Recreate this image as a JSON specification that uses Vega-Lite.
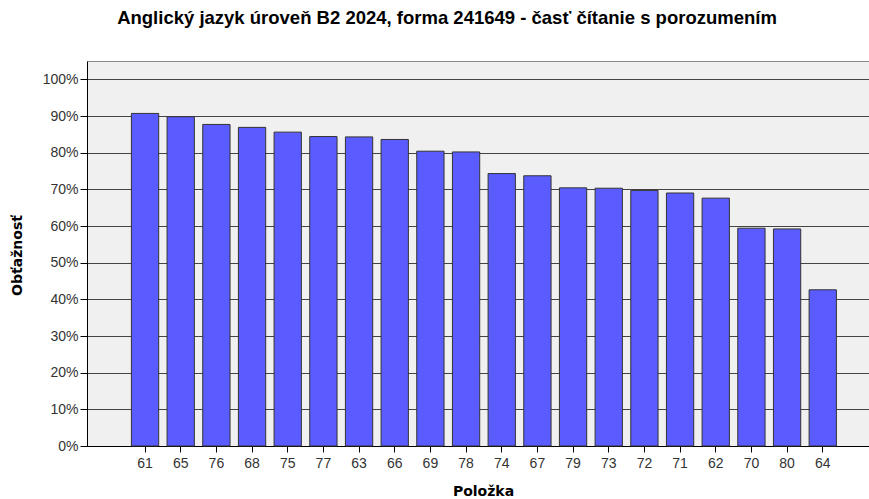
{
  "$schema": "https://vega.github.io/schema/vega-lite/v6.json",
  "width": 782,
  "height": 385,
  "autosize": {"type": "none"},
  "padding": {"left": 87, "top": 61, "right": 0, "bottom": 53},
  "background": "white",
  "title": {
    "text": "Anglický jazyk úroveň B2 2024, forma 241649 - časť čítanie s porozumením",
    "font": "Liberation Sans",
    "fontSize": 18.5,
    "fontWeight": "bold",
    "color": "black",
    "anchor": "middle",
    "frame": "group",
    "dx": -31,
    "offset": 34
  },
  "config": {
    "view": {"fill": "#f0f0f0", "stroke": "#8a8a8a", "strokeWidth": 1}
  },
  "data": {
    "values": [
      {"polozka": "61", "obtaznost": 0.907},
      {"polozka": "65", "obtaznost": 0.898},
      {"polozka": "76", "obtaznost": 0.877},
      {"polozka": "68", "obtaznost": 0.869},
      {"polozka": "75", "obtaznost": 0.856},
      {"polozka": "77", "obtaznost": 0.844},
      {"polozka": "63", "obtaznost": 0.843},
      {"polozka": "66", "obtaznost": 0.836},
      {"polozka": "69", "obtaznost": 0.804},
      {"polozka": "78", "obtaznost": 0.802},
      {"polozka": "74", "obtaznost": 0.743},
      {"polozka": "67", "obtaznost": 0.737},
      {"polozka": "79", "obtaznost": 0.704},
      {"polozka": "73", "obtaznost": 0.703},
      {"polozka": "72", "obtaznost": 0.697},
      {"polozka": "71", "obtaznost": 0.690},
      {"polozka": "62", "obtaznost": 0.676},
      {"polozka": "70", "obtaznost": 0.594},
      {"polozka": "80", "obtaznost": 0.592},
      {"polozka": "64", "obtaznost": 0.426}
    ]
  },
  "mark": {"type": "bar", "fill": "#5a5cff", "stroke": "#333333", "strokeWidth": 1, "width": {"band": 0.765}},
  "encoding": {
    "x": {
      "field": "polozka",
      "type": "nominal",
      "sort": null,
      "scale": {"paddingInner": 0, "paddingOuter": 0.962, "align": 0.586},
      "axis": {
        "title": "Položka",
        "titleFont": "DejaVu Sans",
        "titleFontSize": 14,
        "titleFontWeight": "bold",
        "titleColor": "black",
        "titleX": 396,
        "titleY": 45,
        "titleBaseline": "middle",
        "titleAlign": "center",
        "labelAngle": 0,
        "labelFont": "Liberation Sans",
        "labelFontSize": 14,
        "labelColor": "#333333",
        "labelPadding": 4,
        "tickColor": "black",
        "tickSize": 6,
        "domainColor": "black",
        "grid": false
      }
    },
    "y": {
      "field": "obtaznost",
      "type": "quantitative",
      "scale": {"domain": [0, 1.05], "nice": false},
      "axis": {
        "title": "Obťažnosť",
        "titleFont": "DejaVu Sans",
        "titleFontSize": 14,
        "titleFontWeight": "bold",
        "titleColor": "black",
        "titleAngle": -90,
        "titleX": -70,
        "titleY": 194,
        "titleBaseline": "middle",
        "titleAlign": "center",
        "values": [0, 0.1, 0.2, 0.3, 0.4, 0.5, 0.6, 0.7, 0.8, 0.9, 1.0],
        "format": ".0%",
        "labelFont": "Liberation Sans",
        "labelFontSize": 14,
        "labelColor": "#333333",
        "labelPadding": 2,
        "tickColor": "black",
        "tickSize": 7,
        "domainColor": "black",
        "grid": true,
        "gridColor": "#444444",
        "gridWidth": 1
      }
    }
  }
}
